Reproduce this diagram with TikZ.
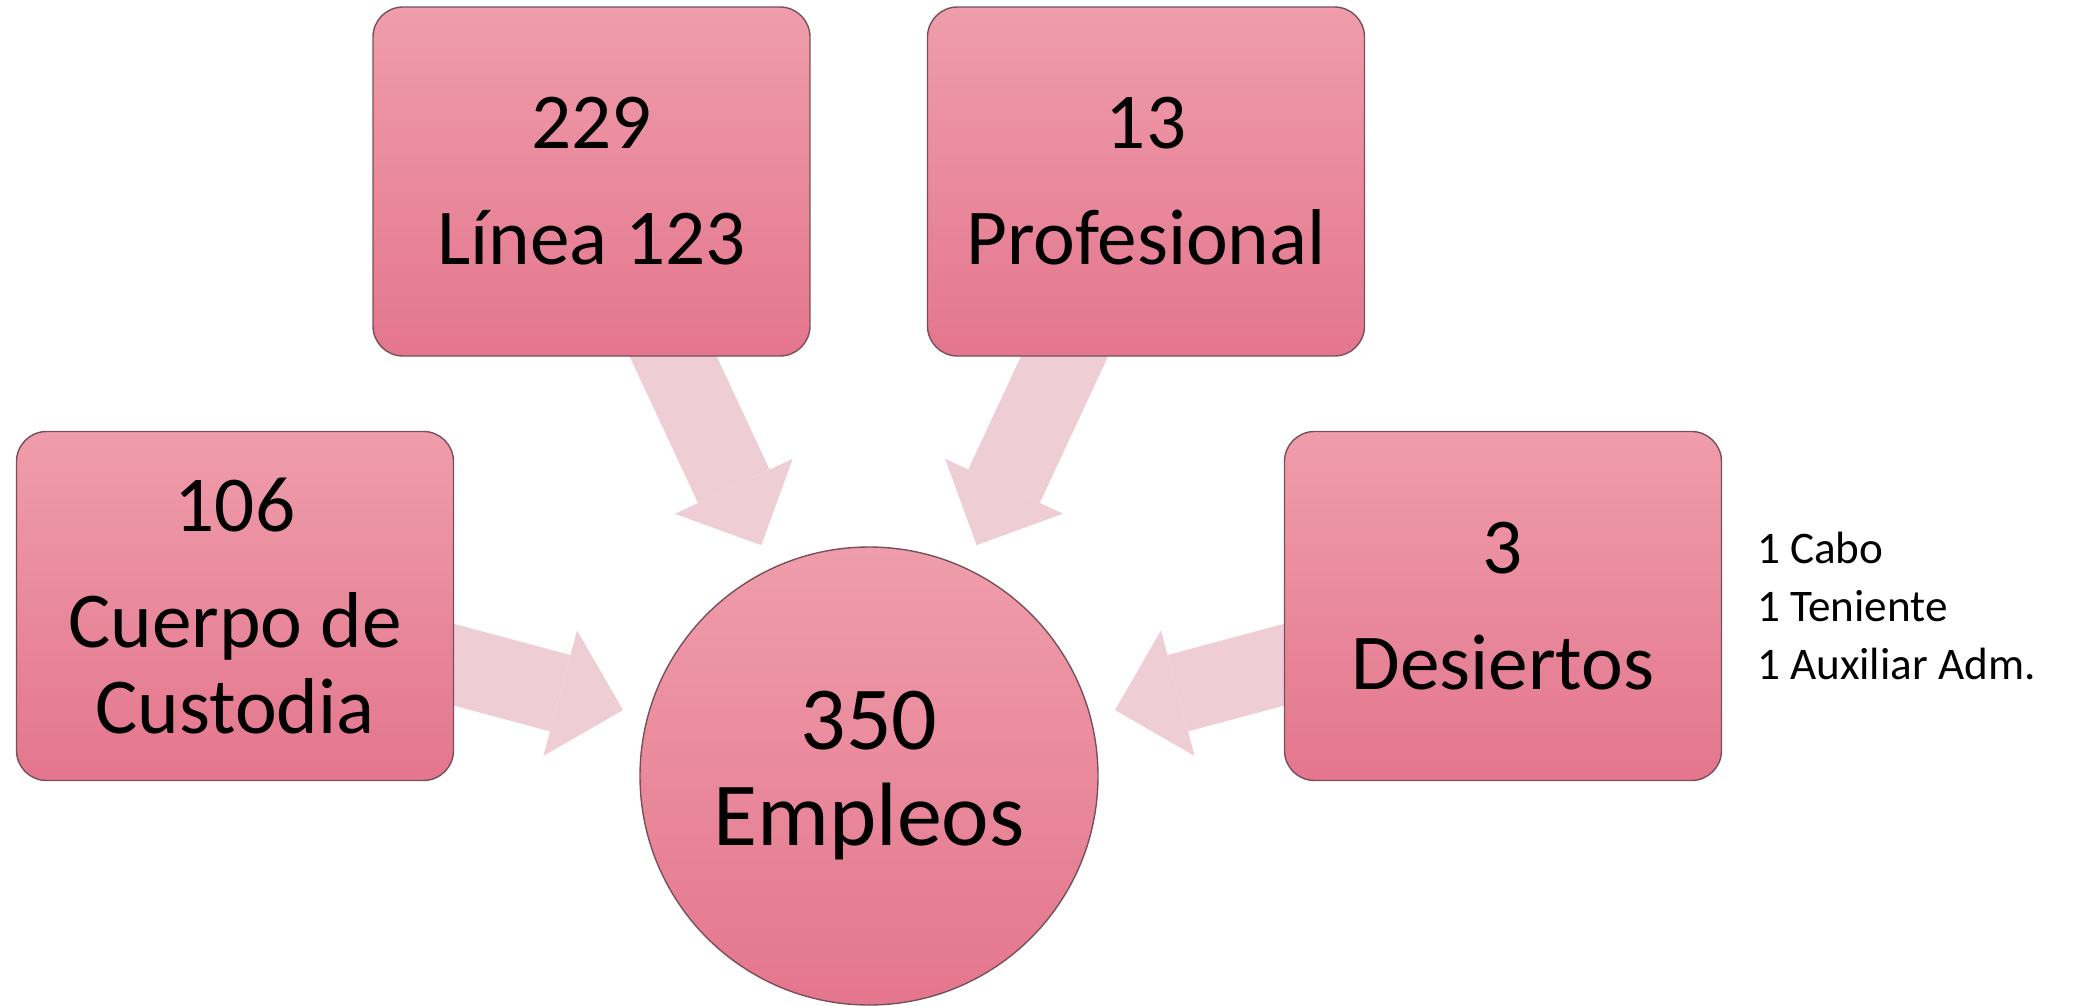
\documentclass[tikz,border=0pt]{standalone}
\usepackage{fontspec}
\setmainfont{Carlito}
\usetikzlibrary{arrows.meta, positioning, backgrounds}
\definecolor{rosetop}{RGB}{239,157,171}
\definecolor{rosebot}{RGB}{228,118,141}
\definecolor{roseedge}{RGB}{120,80,92}
\definecolor{roseflow}{RGB}{239,205,212}

\tikzset{
  numbox/.style={draw=roseedge, line width=0.35pt, top color=rosetop, bottom color=rosebot,
    rounded corners=7.5pt, minimum width=109.25pt, minimum height=87.25pt,
    inner sep=0pt, align=center, font=\fontsize{19.8}{21.5}\selectfont},
  hubcircle/.style={circle, draw=roseedge, line width=0.35pt, top color=rosetop, bottom color=rosebot,
    minimum size=114.5pt, inner sep=0pt, align=center, font=\fontsize{22.5}{24}\selectfont},
  flow/.style={roseflow, line width=19.75pt,
    -{Triangle[width=32.5pt, length=16.25pt, line width=0pt]}, shorten >=6.25pt},
  sidenote/.style={inner sep=0pt, align=left, font=\fontsize{11.3}{14.4}\selectfont}
}

\begin{document}
\begin{tikzpicture}[x=0.25pt, y=-0.25pt]
  \useasboundingbox (0,0) rectangle (2080,1006);

  % centre
  \node[hubcircle] (hub) at (869,776) {350\\Empleos};

  % sources
  \node[numbox] (lin) at (591.5,181.5) {229\\[7.5pt]L\'inea 123};
  \node[numbox] (pro) at (1146,181.5) {13\\[7.5pt]Profesional};
  \node[numbox] (cus) at (235,606) {106\\[7.5pt]Cuerpo de\\Custodia};
  \node[numbox] (des) at (1503,606) {3\\[7.5pt]Desiertos};

  \node[sidenote, right=8.5pt of des] (detail) {1 Cabo\\1 Teniente\\1 Auxiliar Adm.};

  % arrows into the centre
  \begin{scope}[on background layer]
    \draw[flow] (lin.center) -- (hub);
    \draw[flow] (pro.center) -- (hub);
    \draw[flow] (cus.center) -- (hub);
    \draw[flow] (des.center) -- (hub);
  \end{scope}
\end{tikzpicture}
\end{document}
